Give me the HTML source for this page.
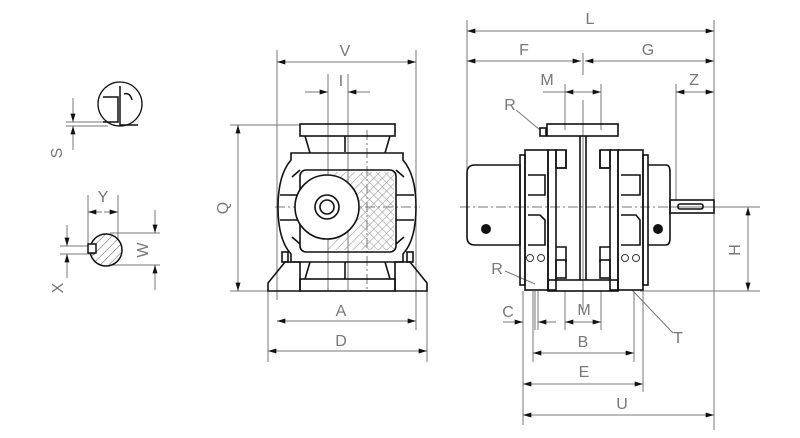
<!DOCTYPE html>
<html><head><meta charset="utf-8"><style>
html,body{margin:0;padding:0;background:#fff}
svg{display:block}
text{font-family:"Liberation Sans",sans-serif;font-size:16px;fill:#777}
</style></head><body>
<svg width="800" height="438" viewBox="0 0 800 438" xmlns="http://www.w3.org/2000/svg">
<defs>
<marker id="a" viewBox="0 0 10 6" refX="10" refY="3" markerWidth="10" markerHeight="5" orient="auto-start-reverse" markerUnits="userSpaceOnUse"><path d="M0,0 L10,3 L0,6z" fill="#111"/></marker>
<pattern id="h" width="6" height="6" patternUnits="userSpaceOnUse" patternTransform="rotate(45)"><line x1="0" y1="0" x2="0" y2="6" stroke="#555" stroke-width="1"/></pattern>
<pattern id="hr" width="6" height="6" patternUnits="userSpaceOnUse" patternTransform="rotate(45)"><line x1="0" y1="0" x2="0" y2="6" stroke="#999" stroke-width="1.2"/></pattern>
<pattern id="hl" width="6" height="6" patternUnits="userSpaceOnUse" patternTransform="rotate(-45)"><line x1="0" y1="0" x2="0" y2="6" stroke="#999" stroke-width="1.2"/></pattern>
</defs>

<!-- ===== LEFT DETAILS ===== -->
<g stroke="#777" stroke-width="1" fill="none">
  <line x1="66" y1="122" x2="108" y2="122"/><line x1="66" y1="126" x2="108" y2="126"/>
  <line x1="73" y1="98" x2="73" y2="122" marker-end="url(#a)"/>
  <line x1="73" y1="150" x2="73" y2="126" marker-end="url(#a)"/>
  <line x1="88" y1="195" x2="88" y2="245"/><line x1="118" y1="195" x2="118" y2="240"/>
  <line x1="88" y1="212" x2="102" y2="212" marker-start="url(#a)"/>
  <line x1="104" y1="212" x2="118" y2="212" marker-end="url(#a)"/>
  <line x1="110" y1="233" x2="160" y2="233"/><line x1="110" y1="265" x2="160" y2="265"/>
  <line x1="155" y1="210" x2="155" y2="233" marker-end="url(#a)"/>
  <line x1="155" y1="290" x2="155" y2="265" marker-end="url(#a)"/>
  <line x1="60" y1="246" x2="95" y2="246"/><line x1="60" y1="254" x2="95" y2="254"/>
  <line x1="67" y1="225" x2="67" y2="246" marker-end="url(#a)"/>
  <line x1="67" y1="278" x2="67" y2="254" marker-end="url(#a)"/>
</g>
<circle cx="120" cy="104" r="22" fill="none" stroke="#111" stroke-width="1.3"/>
<path d="M103,97 H118 V122 H103 M120,86 V125 H138 M124,94 q6,-2 8,6" fill="none" stroke="#111" stroke-width="1.5"/>
<circle cx="106" cy="250" r="16" fill="url(#h)" stroke="#111" stroke-width="1.5"/>
<rect x="88" y="244" width="8" height="9" fill="#fff" stroke="#111" stroke-width="1.5"/>
<text x="62" y="153" transform="rotate(-90 62 153)" text-anchor="middle">S</text>
<text x="103" y="202" text-anchor="middle">Y</text>
<text x="148" y="250" transform="rotate(-90 148 250)" text-anchor="middle">W</text>
<text x="63" y="288" transform="rotate(-90 63 288)" text-anchor="middle">X</text>

<!-- ===== FRONT VIEW ===== -->
<g stroke="#777" stroke-width="1" fill="none">
  <line x1="277" y1="50" x2="277" y2="300"/><line x1="416" y1="50" x2="416" y2="330"/>
  <line x1="277" y1="62" x2="416" y2="62" marker-start="url(#a)" marker-end="url(#a)"/>
  <line x1="328" y1="74" x2="328" y2="290"/><line x1="348" y1="74" x2="348" y2="290"/>
  <line x1="305" y1="92" x2="328" y2="92" marker-end="url(#a)"/>
  <line x1="370" y1="92" x2="348" y2="92" marker-end="url(#a)"/>
  <line x1="230" y1="125" x2="300" y2="125"/><line x1="230" y1="291" x2="275" y2="291"/>
  <line x1="238" y1="125" x2="238" y2="291" marker-start="url(#a)" marker-end="url(#a)"/>
  <line x1="268" y1="291" x2="268" y2="362"/><line x1="427" y1="291" x2="427" y2="362"/>
  <line x1="277" y1="321" x2="416" y2="321" marker-start="url(#a)" marker-end="url(#a)"/>
  <line x1="268" y1="351" x2="427" y2="351" marker-start="url(#a)" marker-end="url(#a)"/>
  <line x1="275" y1="207" x2="420" y2="207" stroke-dasharray="10 3 2 3"/>
  <line x1="367" y1="130" x2="367" y2="290" stroke-dasharray="10 3 2 3"/>
</g>
<text x="345" y="56" text-anchor="middle">V</text>
<text x="341" y="86" text-anchor="middle">I</text>
<text x="228" y="208" transform="rotate(-90 228 208)" text-anchor="middle">Q</text>
<text x="341" y="316" text-anchor="middle">A</text>
<text x="341" y="346" text-anchor="middle">D</text>
<g stroke="#111" stroke-width="1.6" fill="none">
  <rect x="300" y="124" width="95" height="12"/>
  <rect x="300" y="279" width="95" height="12"/>
  <path d="M305,136 L310,153 M390,136 L385,153 M305,279 L310,262 M390,279 L385,262"/>
  <path d="M291,153 H403 V160 Q416,175 416,207 Q416,240 403,254 V262 H291 V254 Q278,240 278,207 Q278,175 291,160 Z"/>
  <path d="M300,170 L292,177 M396,170 L404,177 M300,244 L292,237 M396,244 L404,237 M280,195 H300 M280,220 H300 M396,195 H414 M396,220 H414"/>
  <rect x="300" y="170" width="96" height="82" rx="6"/>
  <path d="M268,291 V283 L285,262 H300 V291 Z M427,291 V283 L410,262 H395 V291 Z"/>
  <rect x="282" y="252" width="6" height="10"/><rect x="407" y="252" width="6" height="10"/>
  <line x1="345" y1="136" x2="345" y2="152"/><line x1="345" y1="262" x2="345" y2="279"/>
</g>
<rect x="328" y="172" width="66" height="78" fill="url(#hr)"/>
<rect x="361" y="172" width="33" height="78" fill="url(#hl)" opacity="0.9"/>
<circle cx="327" cy="207" r="32" fill="#fff" stroke="#111" stroke-width="1.6"/>
<circle cx="327" cy="207" r="12" fill="none" stroke="#111" stroke-width="1.6"/>
<circle cx="327" cy="207" r="7" fill="none" stroke="#111" stroke-width="1.6"/>

<!-- ===== SIDE VIEW ===== -->
<g stroke="#777" stroke-width="1" fill="none">
  <line x1="467" y1="20" x2="467" y2="170"/><line x1="714" y1="20" x2="714" y2="430"/>
  <line x1="467" y1="31" x2="714" y2="31" marker-start="url(#a)" marker-end="url(#a)"/>
  <line x1="583" y1="53" x2="583" y2="75"/>
  <line x1="467" y1="61" x2="581" y2="61" marker-start="url(#a)" marker-end="url(#a)"/>
  <line x1="585" y1="61" x2="714" y2="61" marker-start="url(#a)" marker-end="url(#a)"/>
  <line x1="565" y1="84" x2="565" y2="130"/><line x1="601" y1="84" x2="601" y2="130"/>
  <line x1="543" y1="92" x2="565" y2="92"/>
  <line x1="565" y1="92" x2="583" y2="92" marker-start="url(#a)"/>
  <line x1="583" y1="92" x2="601" y2="92" marker-end="url(#a)"/>
  <line x1="676" y1="84" x2="676" y2="200"/>
  <line x1="676" y1="92" x2="714" y2="92" marker-start="url(#a)" marker-end="url(#a)"/>
  <line x1="583" y1="100" x2="583" y2="310"/>
  <line x1="670" y1="207" x2="760" y2="207"/><line x1="640" y1="291" x2="760" y2="291"/>
  <line x1="748" y1="207" x2="748" y2="291" marker-start="url(#a)" marker-end="url(#a)"/>
  <line x1="460" y1="207" x2="760" y2="207" stroke-dasharray="10 3 2 3"/>
  <line x1="523" y1="291" x2="523" y2="425"/><line x1="533" y1="291" x2="533" y2="362"/>
  <line x1="535" y1="291" x2="535" y2="330"/><line x1="538" y1="291" x2="538" y2="330"/>
  <line x1="565" y1="291" x2="565" y2="330"/><line x1="601" y1="291" x2="601" y2="330"/>
  <line x1="634" y1="291" x2="634" y2="362"/><line x1="643" y1="291" x2="643" y2="392"/>
  <line x1="503" y1="322" x2="523" y2="322" marker-end="url(#a)"/>
  <line x1="556" y1="322" x2="538" y2="322" marker-end="url(#a)"/>
  <line x1="565" y1="322" x2="601" y2="322" marker-start="url(#a)" marker-end="url(#a)"/>
  <line x1="533" y1="353" x2="634" y2="353" marker-start="url(#a)" marker-end="url(#a)"/>
  <line x1="523" y1="384" x2="643" y2="384" marker-start="url(#a)" marker-end="url(#a)"/>
  <line x1="523" y1="415" x2="714" y2="415" marker-start="url(#a)" marker-end="url(#a)"/>
  <line x1="516" y1="110" x2="540" y2="130"/>
  <line x1="505" y1="271" x2="535" y2="284"/>
  <line x1="632" y1="290" x2="673" y2="333"/>
</g>
<text x="590" y="24" text-anchor="middle">L</text>
<text x="524" y="55" text-anchor="middle">F</text>
<text x="648" y="55" text-anchor="middle">G</text>
<text x="547" y="85" text-anchor="middle">M</text>
<text x="694" y="85" text-anchor="middle">Z</text>
<text x="510" y="110" text-anchor="middle">R</text>
<text x="497" y="274" text-anchor="middle">R</text>
<text x="740" y="250" transform="rotate(-90 740 250)" text-anchor="middle">H</text>
<text x="508" y="317" text-anchor="middle">C</text>
<text x="584" y="315" text-anchor="middle">M</text>
<text x="583" y="347" text-anchor="middle">B</text>
<text x="584" y="377" text-anchor="middle">E</text>
<text x="622" y="409" text-anchor="middle">U</text>
<text x="678" y="343" text-anchor="middle">T</text>
<g stroke="#111" stroke-width="1.6" fill="none">
  <rect x="547" y="124" width="71" height="12"/>
  <rect x="540" y="128" width="6" height="8"/>
  <path d="M475,165 H520 V245 H475 Q467,245 467,237 V173 Q467,165 475,165 Z"/>
  <rect x="520" y="155" width="5" height="130"/>
  <rect x="525" y="150" width="23" height="140"/>
  <rect x="548" y="150" width="8" height="140"/>
  <rect x="610" y="150" width="8" height="140"/>
  <rect x="618" y="150" width="25" height="140"/>
  <rect x="643" y="155" width="5" height="130"/>
  <path d="M648,165 H666 Q670,165 670,172 V238 Q670,245 666,245 H648"/>
  <rect x="670" y="200" width="44" height="13"/>
  <rect x="678" y="204" width="25" height="5" rx="2"/>
  <rect x="548" y="280" width="70" height="11"/>
  <line x1="580" y1="136" x2="580" y2="280"/><line x1="586" y1="136" x2="586" y2="280"/>
  <path d="M556,168 H566 V150 M610,168 H600 V150 M556,247 H566 V262 M610,247 H600 V262"/>
  <path d="M528,175 H545 V195 H528 M528,215 H540 L545,220 V245 H528 M621,175 H640 V195 H621 M621,215 H636 L640,220 V245 H621"/>
  <rect x="556" y="150" width="10" height="18"/><rect x="600" y="150" width="10" height="18"/>
  <rect x="556" y="260" width="10" height="18"/><rect x="600" y="260" width="10" height="18"/>
</g>
<circle cx="486" cy="229" r="5" fill="#111"/>
<circle cx="658" cy="229" r="5" fill="#111"/>
<g fill="none" stroke="#333" stroke-width="1"><circle cx="530" cy="258" r="3.5"/><circle cx="541" cy="258" r="3.5"/><circle cx="625" cy="258" r="3.5"/><circle cx="636" cy="258" r="3.5"/></g>
</svg>
</body></html>
